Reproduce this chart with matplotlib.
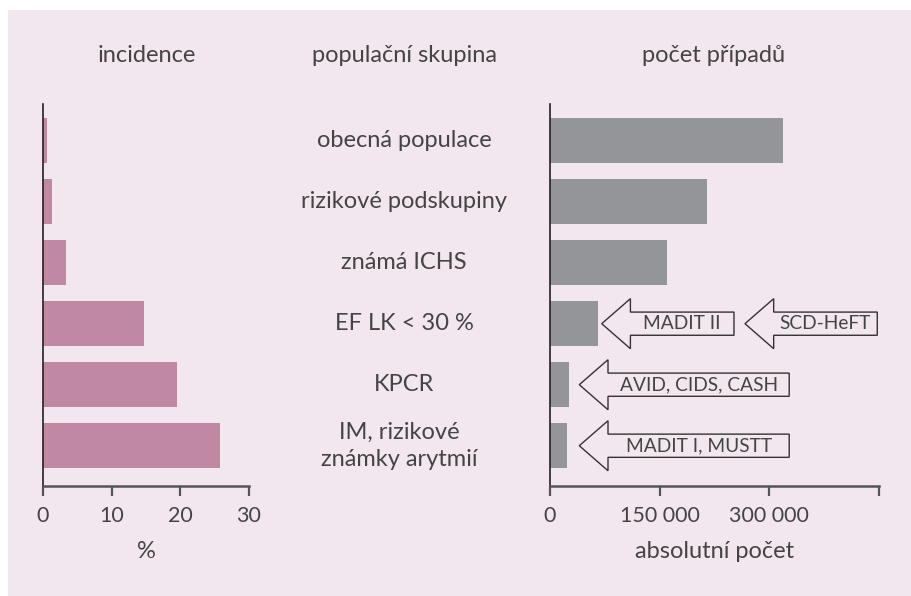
import matplotlib
matplotlib.use("Agg")
import matplotlib.pyplot as plt
from matplotlib.patches import Rectangle, FancyArrow
from matplotlib.transforms import blended_transform_factory

# ---- data ----
categories = ["obecná populace", "rizikové podskupiny", "známá ICHS",
              "EF LK < 30 %", "KPCR", "IM, rizikové\nznámky arytmií"]
incidence = [0.6, 1.3, 3.3, 14.7, 19.5, 25.8]
cases = [318000, 215000, 160000, 66000, 26000, 24000]
inc_ticks = [0, 10, 20, 30]
inc_ticklabels = ["0", "10", "20", "30"]
case_ticks = [0, 150000, 300000, 450000]
case_ticklabels = ["0", "150 000", "300 000", ""]
# trial arrows: label, row, arrow tip value, arrow tail value
trial_labels = ["MADIT II", "SCD-HeFT", "AVID, CIDS, CASH", "MADIT I, MUSTT"]
trial_rows = [3, 3, 4, 5]
trial_tips = [71000, 266600, 40400, 40400]
trial_tails = [251600, 447200, 327000, 327000]

BG = "#F2E7EE"
PINK = "#C088A3"
GRAY = "#939598"
TXT = "#444444"
FONT = ["Lato", "DejaVu Sans"]
FS = 17
FS_TICK = 15.5
FS_ARROW = 13.8

plt.rcParams["font.family"] = FONT
plt.rcParams["font.weight"] = "normal"

W, H = 911, 596
fig = plt.figure(figsize=(W / 100, H / 100), dpi=100, facecolor="white")
fig.patches.append(Rectangle((8 / W, 0), 1 - 8 / W, 1 - 10 / H,
                             transform=fig.transFigure, facecolor=BG,
                             edgecolor="none", zorder=-10))

ax_bottom = 1 - 486 / H
ax_height = (486 - 104) / H
ax1 = fig.add_axes([43 / W, ax_bottom, 206 / W, ax_height])
ax2 = fig.add_axes([549.7 / W, ax_bottom, 329.6 / W, ax_height])

pos = list(range(len(categories)))
ax1.barh(pos, incidence, height=0.74, color=PINK, zorder=2)
ax2.barh(pos, cases, height=0.74, color=GRAY, zorder=2)

for ax, ticks, labels, xmax in [(ax1, inc_ticks, inc_ticklabels, 30),
                                (ax2, case_ticks, case_ticklabels, 450000)]:
    ax.set_facecolor("none")
    ax.set_xlim(0, xmax)
    ax.set_ylim(5.66, -0.6)
    ax.set_yticks([])
    ax.set_xticks(ticks)
    ax.set_xticklabels(labels, fontsize=FS_TICK, color=TXT, fontweight="normal")
    ax.spines["top"].set_visible(False)
    ax.spines["right"].set_visible(False)
    ax.spines["left"].set_color("#222222")
    ax.spines["left"].set_linewidth(1.2)
    ax.spines["bottom"].set_color("#555555")
    ax.spines["bottom"].set_linewidth(1.8)
    ax.tick_params(axis="x", direction="out", length=7.2, width=1.6,
                   color="#555555", pad=7)

ax1.set_xlabel("%", fontsize=FS, color=TXT, labelpad=11, fontweight="normal")
ax2.set_xlabel("absolutní počet", fontsize=FS, color=TXT, labelpad=11,
               fontweight="normal")

# trial arrows
for lab, row, tip, tail in zip(trial_labels, trial_rows, trial_tips, trial_tails):
    head_len = 39200
    arr = FancyArrow(tail, row, tip - tail, 0, width=0.38, head_width=0.82,
                     head_length=head_len, length_includes_head=True,
                     facecolor=BG, edgecolor="#333333", linewidth=1.0,
                     zorder=3, clip_on=False)
    ax2.add_patch(arr)
    ax2.text((tip + head_len + tail) / 2, row, lab, ha="center", va="center",
             fontsize=FS_ARROW, color=TXT, zorder=4, fontweight="normal")

# middle category labels
tr = blended_transform_factory(fig.transFigure, ax2.transData)
for i, c in enumerate(categories):
    xc = 404 if "\n" not in c else 399
    fig.text(xc / W, i, c, transform=tr, ha="center", va="center",
             fontsize=FS, color=TXT, linespacing=1.35, fontweight="normal")

# column titles
ty = 1 - 55 / H
for x, t in [(147, "incidence"), (404, "populační skupina"), (714, "počet případů")]:
    fig.text(x / W, ty, t, ha="center", va="center", fontsize=FS, color=TXT,
             fontweight="normal")

fig.savefig("out.png", dpi=100, facecolor="white")
